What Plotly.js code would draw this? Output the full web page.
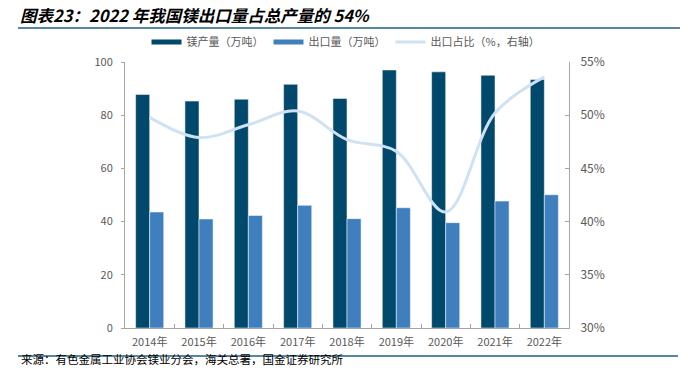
<!DOCTYPE html>
<html><head><meta charset="utf-8">
<script src="https://cdn.plot.ly/plotly-3.0.1.min.js"></script>
<style>html,body{margin:0;padding:0;background:#fff;}#chart{width:688px;height:368px;}</style>
</head><body><div id="chart"></div>
<script>
var years = ['2014年','2015年','2016年','2017年','2018年','2019年','2020年','2021年','2022年'];
var production = [87.8, 85.3, 86.0, 91.6, 86.3, 97.0, 96.3, 95.0, 93.4];
var exportsVol = [43.6, 41.0, 42.3, 46.1, 41.1, 45.2, 39.6, 47.7, 50.1];
var exportShare = [49.8, 47.9, 49.1, 50.4, 47.7, 46.6, 40.9, 50.2, 53.6];

var darkC = '#00496d', lightC = '#3f7fbe', lineC = '#cfe2f3';
var font = '"Noto Sans CJK SC", "Liberation Sans", sans-serif';

var L = 125, R = 569, T = 62, B = 328;
function px(x){ return (x - L) / (R - L); }
function py(y){ return (B - y) / (B - T); }

var data = [
  {type:'bar', name:'镁产量（万吨）', x:years, y:production, marker:{color:darkC, line:{color:'#ffffff', width:0.5}}, showlegend:false, hoverinfo:'skip'},
  {type:'bar', name:'出口量（万吨）', x:years, y:exportsVol, marker:{color:lightC, line:{color:'#ffffff', width:0.5}}, showlegend:false, hoverinfo:'skip'},
  {type:'scatter', mode:'lines', name:'出口占比（%，右轴）', x:years, y:exportShare, yaxis:'y2', line:{color:lineC, width:3, shape:'spline', smoothing:1}, showlegend:false},
  {type:'scatter', mode:'lines', name:'镁产量（万吨）', x:[years[0]], y:[null], line:{color:darkC, width:5}},
  {type:'scatter', mode:'lines', name:'出口量（万吨）', x:[years[0]], y:[null], line:{color:lightC, width:5}},
  {type:'scatter', mode:'lines', name:'出口占比（%，右轴）', x:[years[0]], y:[null], yaxis:'y2', line:{color:lineC, width:3}}
];

var layout = {
  width:688, height:368,
  margin:{l:L, r:688-R, t:T, b:368-B, pad:0},
  paper_bgcolor:'#fff', plot_bgcolor:'#fff',
  font:{family:font, size:11, color:'#595959'},
  barmode:'group', bargap:0.43, bargroupgap:0,
  title:{text:'<b><i>图表23：2022 年我国镁出口量占总产量的 54%</i></b>', x:20/688, xanchor:'left', xref:'container', y:1-16/368, yref:'container', yanchor:'middle', font:{family:font, size:16.5, color:'#000'}},
  xaxis:{type:'category', showline:true, linecolor:'#a6a6a6', linewidth:1, ticks:'inside', tickson:'boundaries', ticklen:4, tickcolor:'#a6a6a6', showgrid:false, tickfont:{size:11, color:'#595959'}, ticklabelstandoff:4, fixedrange:true},
  yaxis:{range:[0,100], dtick:20, showline:true, linecolor:'#a6a6a6', linewidth:1, ticks:'outside', ticklen:3, tickcolor:'#a6a6a6', showgrid:false, zeroline:false, tickfont:{size:11, color:'#595959'}, ticklabelstandoff:6},
  yaxis2:{overlaying:'y', side:'right', range:[30,55], dtick:5, ticksuffix:'%', showline:true, linecolor:'#a6a6a6', linewidth:1, ticks:'inside', ticklen:4, tickcolor:'#a6a6a6', showgrid:false, zeroline:false, tickfont:{size:12, color:'#595959'}, ticklabelstandoff:8},
  legend:{orientation:'h', x:px(346), xanchor:'center', y:py(42), yanchor:'middle', font:{size:11, color:'#595959'}, itemwidth:30, tracegroupgap:0, bgcolor:'rgba(0,0,0,0)'},
  shapes:[
    {type:'line', xref:'paper', yref:'paper', x0:px(18), x1:px(680), y0:py(28), y1:py(28), line:{color:'#1f5f80', width:1.5}},
    {type:'line', xref:'paper', yref:'paper', x0:px(18), x1:px(678), y0:py(356), y1:py(356), line:{color:'#1f5f80', width:1.5}}
  ],
  annotations:[
    {text:'来源：有色金属工业协会镁业分会，海关总署，国金证券研究所', xref:'paper', yref:'paper', x:px(20), y:py(368), xanchor:'left', yanchor:'bottom', borderpad:0, showarrow:false, font:{family:font, size:11.5, color:'#000'}}
  ]
};
Plotly.newPlot('chart', data, layout, {displayModeBar:false, staticPlot:true});
</script></body></html>
